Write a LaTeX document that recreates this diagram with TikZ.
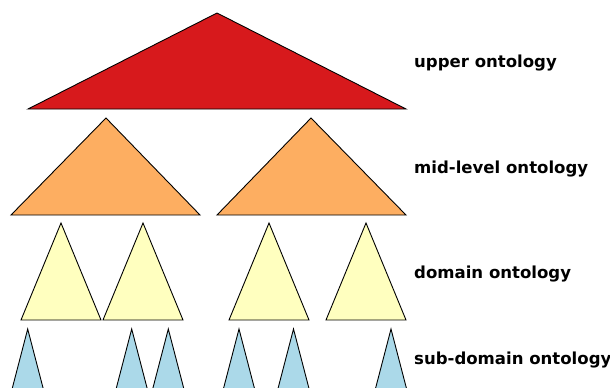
\documentclass[tikz,border=0pt]{standalone}
\usepackage{fontspec}
\setmainfont{DejaVu Sans}
\definecolor{upperred}{RGB}{215,25,28}
\definecolor{midorange}{RGB}{253,174,97}
\definecolor{domyellow}{RGB}{255,255,191}
\definecolor{subblue}{RGB}{171,217,233}
\begin{document}
\begin{tikzpicture}[
x=1bp,y=-1bp,
tri/.style={draw=black,line width=0.9pt,line join=miter},
upper/.style={tri,fill=upperred},
mid/.style={tri,fill=midorange},
dom/.style={tri,fill=domyellow},
sub/.style={tri,fill=subblue},
tag/.style={anchor=base west,inner sep=0pt,font=\fontsize{16.6}{19}\selectfont\bfseries},
]
\useasboundingbox (0,0) rectangle (610,387);
\clip (0,0) rectangle (610,387);
%\draw[help lines,step=50](0,0)grid(610,387);

% upper ontology
\path[upper] (217,13) -- (406,109) -- (28,109) -- cycle;

% mid-level ontology
\path[mid] (106,118) -- (200,215) -- (11,215) -- cycle;
\path[mid] (311,118) -- (406,215) -- (217,215) -- cycle;

% domain ontology
\path[dom] (61,223) -- (101,320) -- (21,320) -- cycle;
\path[dom] (143,223) -- (183,320) -- (103,320) -- cycle;
\path[dom] (269,223) -- (309,320) -- (229,320) -- cycle;
\path[dom] (366,223) -- (406,320) -- (326,320) -- cycle;

% sub-domain ontology
\path[sub] (27.7,329) -- (52.7,425) -- (2.7,425) -- cycle;
\path[sub] (131.7,329) -- (156.7,425) -- (106.7,425) -- cycle;
\path[sub] (168.3,329) -- (193.3,425) -- (143.3,425) -- cycle;
\path[sub] (239,329) -- (264,425) -- (214,425) -- cycle;
\path[sub] (293.5,329) -- (318.5,425) -- (268.5,425) -- cycle;
\path[sub] (391,329) -- (416,425) -- (366,425) -- cycle;

%Labels
\node[tag] (upperlbl) at (414,67) {upper ontology};
\node[tag] (midlbl) at (414,173) {mid-level ontology};
\node[tag] (domlbl) at (414,278) {domain ontology};
\node[tag] (sublbl) at (414,364) {sub-domain ontology};

\end{tikzpicture}
\end{document}
